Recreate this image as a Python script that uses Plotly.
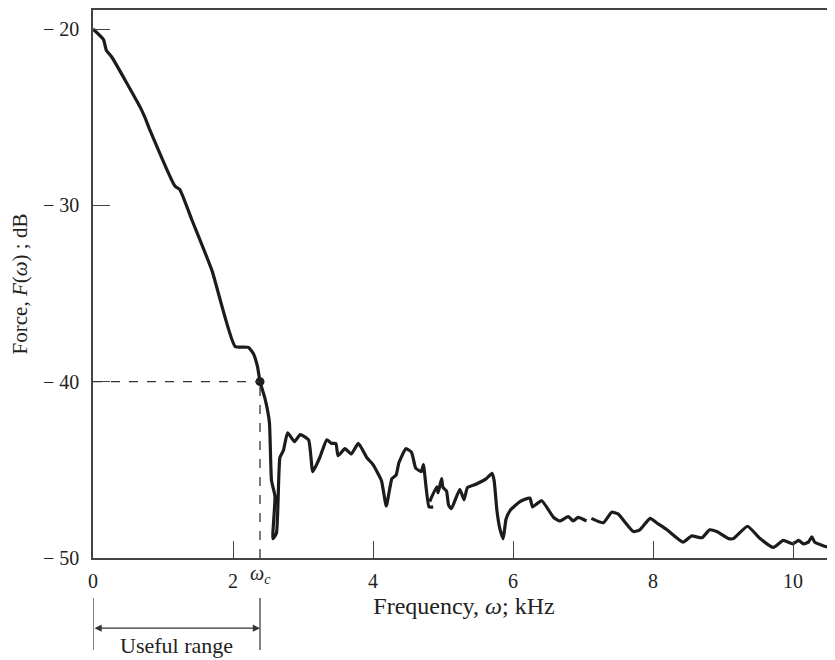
import plotly.graph_objects as go

# data (kHz, dB); None marks the small breaks in the trace
freq = [0.0, 0.15, 0.19, 0.27, 0.67, 0.74, 0.80, 1.17, 1.24, 1.41, 1.70, 2.03, 2.22, 2.29, 2.35, 2.386,
        2.46, 2.52, 2.55, 2.60, 2.57, 2.62, 2.67, 2.72, 2.78, 2.88, 2.96, 3.08, 3.14, 3.24, 3.34, 3.41,
        3.47, 3.50, 3.60, 3.69, 3.79, 3.91, 4.00, 4.12, 4.19, 4.27, 4.33, 4.37, 4.47, 4.55, 4.61, 4.69,
        4.72, 4.80, 4.86, None,
        4.81, 4.91, 4.93, 4.98, 5.00, 5.05, 5.08, 5.12, 5.24, 5.30, 5.35, 5.48, 5.62, 5.70, 5.73, 5.77,
        5.81, 5.86, 5.90, 5.96, 6.10, 6.24, 6.28, 6.41, 6.58, 6.67, 6.79, 6.86, 6.93, 7.05, None,
        7.12, 7.29, 7.41, 7.50, 7.72, 7.81, 7.96, 8.05, 8.20, 8.43, 8.55, 8.70, 8.81, 8.91, 9.08, 9.15,
        9.35, 9.53, 9.72, 9.86, 10.0, 10.08, 10.15, 10.22, 10.27, 10.31, 10.43, 10.6]
force = [-20.0, -20.6, -21.2, -21.6, -24.4, -25.0, -25.6, -28.9, -29.1, -30.8, -33.7, -38.0, -38.05, -38.4, -39.15, -40.0,
         -41.0, -42.3, -45.6, -46.5, -48.9, -48.6, -44.3, -43.9, -42.9, -43.4, -43.0, -43.3, -45.1, -44.3, -43.3, -43.5,
         -43.5, -44.2, -43.8, -44.1, -43.5, -44.3, -44.7, -45.6, -47.05, -45.5, -45.3, -44.6, -43.8, -44.0, -44.9, -45.1,
         -44.7, -47.1, -47.1, None,
         -46.8, -45.96, -46.3, -45.5, -46.0, -46.2, -47.0, -47.2, -46.1, -46.7, -46.0, -45.8, -45.5, -45.2, -45.6, -47.3,
         -48.3, -48.9, -47.8, -47.3, -46.8, -46.6, -47.1, -46.75, -47.7, -47.9, -47.65, -47.9, -47.7, -47.9, None,
         -47.75, -48.0, -47.4, -47.5, -48.5, -48.4, -47.75, -48.0, -48.4, -49.1, -48.75, -48.85, -48.4, -48.5, -48.9, -48.9,
         -48.2, -48.9, -49.4, -49.0, -49.2, -49.0, -49.2, -49.1, -48.8, -49.1, -49.3, -49.5]

omega_c = 2.386
cutoff_db = -40

x_ticks = [0, 2, 4, 6, 8, 10]
x_labels = ['0', '2', '4', '6', '8', '10']
y_ticks = [-50, -40, -30, -20]
y_labels = ['\u2212 50', '\u2212 40', '\u2212 30', '\u2212 20']

serif = 'Liberation Serif, Times New Roman, serif'
ink = '#1c1c1c'
axis_col = '#444444'

fig = go.Figure()

fig.add_trace(go.Scatter(
    x=freq, y=force, mode='lines',
    line=dict(color=ink, width=3.2, shape='spline', smoothing=0.45),
    connectgaps=False, showlegend=False, hoverinfo='skip'
))

fig.add_trace(go.Scatter(
    x=[omega_c], y=[cutoff_db], mode='markers',
    marker=dict(color=ink, size=9),
    showlegend=False, hoverinfo='skip'
))

# dashed guides to the cut-off point
fig.add_shape(type='line', xref='x', yref='y', x0=0, x1=omega_c, y0=cutoff_db, y1=cutoff_db,
              line=dict(color='#333', width=1.3, dash='dash'))
fig.add_shape(type='line', xref='x', yref='y', x0=omega_c, x1=omega_c, y0=-50, y1=cutoff_db,
              line=dict(color='#333', width=1.3, dash='dash'))

# useful range bracket below the axis
for xv in [0, omega_c]:
    fig.add_shape(type='line', xref='x', yref='paper', x0=xv, x1=xv, y0=-0.073, y1=-0.168,
                  line=dict(color='#333', width=1.2))

fig.add_annotation(x=omega_c, y=-0.128, xref='x', yref='paper',
                   ax=0, ay=0, axref='x', ayref='pixel',
                   text='', showarrow=True, arrowhead=2, arrowside='end+start',
                   arrowsize=1.2, arrowwidth=1.2, arrowcolor='#333')
fig.add_annotation(x=omega_c / 2, y=-0.159, xref='x', yref='paper',
                   text='Useful range', showarrow=False, yanchor='middle',
                   font=dict(family=serif, size=22, color='#222'))
fig.add_annotation(x=omega_c, y=-0.031, xref='x', yref='paper',
                   text='<i>\u03c9</i><sub><i>c</i></sub>', showarrow=False, yanchor='middle',
                   font=dict(family=serif, size=20, color='#222'))

# the page body adds an 8px offset, so the figure is sized and placed to make up for it
fig.update_layout(
    width=827, height=652,
    margin=dict(l=85, r=0, t=2, b=102),
    paper_bgcolor='white', plot_bgcolor='white',
    font=dict(family=serif, size=20, color='#222'),
    xaxis=dict(
        range=[0, 10.6], tickvals=x_ticks, ticktext=x_labels,
        ticks='inside', ticklen=17, tickwidth=1, tickcolor=axis_col,
        showline=True, linecolor=axis_col, linewidth=1.6, mirror=True,
        showgrid=False, zeroline=False, ticklabelstandoff=4, automargin=False,
        title=dict(text='Frequency, <i>\u03c9</i>; kHz', standoff=6)
    ),
    yaxis=dict(
        range=[-50, -18.92], tickvals=y_ticks, ticktext=y_labels,
        ticks='inside', ticklen=17, tickwidth=1, tickcolor=axis_col,
        showline=True, linecolor=axis_col, linewidth=1.6,
        showgrid=False, zeroline=False, ticklabelstandoff=8, automargin=False,
        title=dict(text='Force, <i>F</i>(<i>\u03c9</i>) ; dB', standoff=16,
                   font=dict(size=21))
    )
)

fig.write_html("out.html")
